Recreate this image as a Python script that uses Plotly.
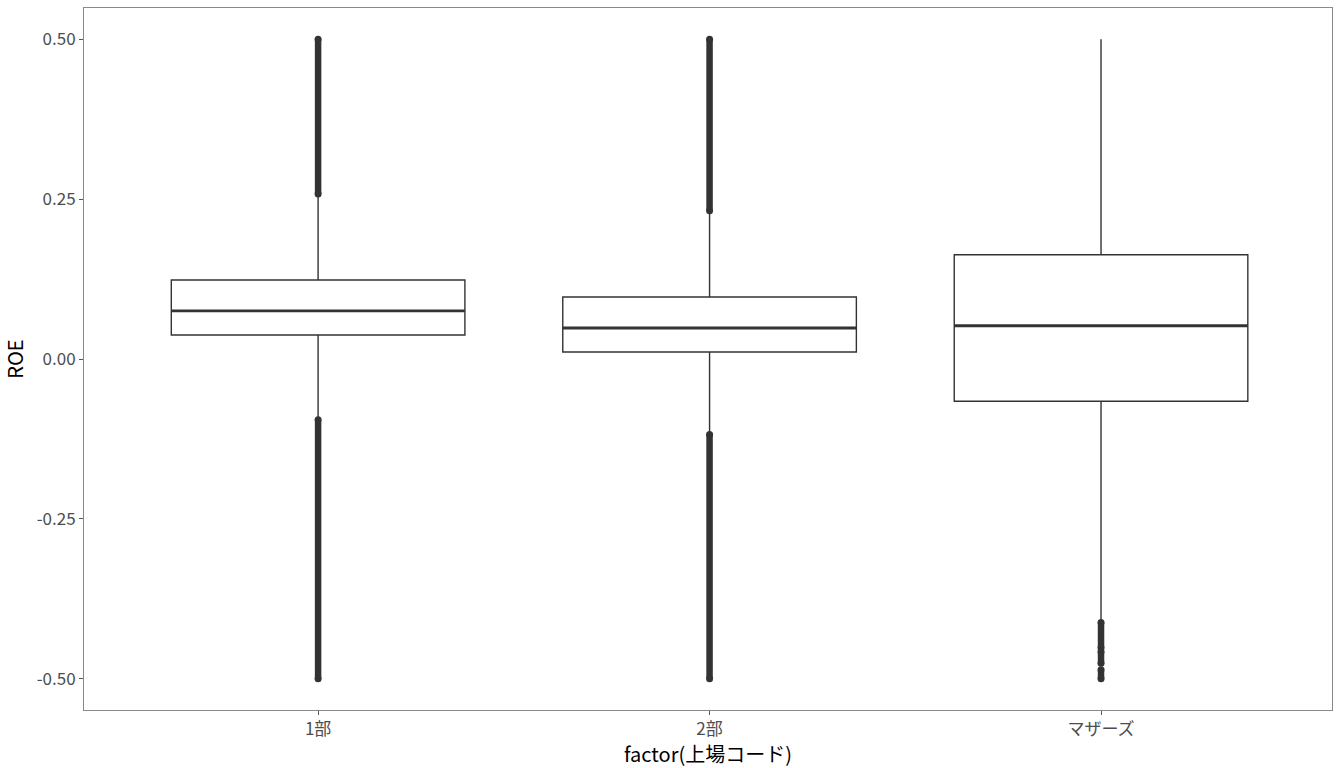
import plotly.graph_objects as go

categories = ["1部", "2部", "マザーズ"]
xpos = [1, 2, 3]
q1 = [0.0375, 0.011, -0.066]
median = [0.0752, 0.0485, 0.052]
q3 = [0.1236, 0.097, 0.163]
lowerfence = [-0.092, -0.115, -0.408]
upperfence = [0.254, 0.228, 0.50]
# outlier strips (dense points), as (start, end) value ranges per category
outlier_ranges = [
    [(0.258, 0.50), (-0.50, -0.095)],
    [(0.232, 0.50), (-0.50, -0.118)],
    [(-0.412, -0.452), (-0.458, -0.476), (-0.486, -0.50)],
]
yticks = [0.50, 0.25, 0.00, -0.25, -0.50]
ytick_labels = ["0.50", "0.25", "0.00", "-0.25", "-0.50"]

box_w = 0.75
line_col = "#333333"
font_family = "Noto Sans CJK JP"

fig = go.Figure()
fig.add_trace(go.Box(
    x=xpos, q1=q1, median=median, q3=q3,
    lowerfence=lowerfence, upperfence=upperfence,
    width=box_w, whiskerwidth=0, boxpoints=False,
    fillcolor="white", line=dict(color=line_col, width=1.4),
    showlegend=False, hoverinfo="skip",
))
# thicker median lines
for xi, m in zip(xpos, median):
    fig.add_trace(go.Scatter(
        x=[xi - box_w / 2, xi + box_w / 2], y=[m, m], mode="lines",
        line=dict(color=line_col, width=2.8), showlegend=False, hoverinfo="skip",
    ))
# outliers
for xi, ranges in zip(xpos, outlier_ranges):
    for a, b in ranges:
        fig.add_trace(go.Scatter(
            x=[xi, xi], y=[a, b], mode="lines+markers",
            line=dict(color=line_col, width=6.5),
            marker=dict(color=line_col, size=7, line=dict(width=0)),
            showlegend=False, hoverinfo="skip",
        ))

axis_common = dict(
    showgrid=False, zeroline=False, showline=True, mirror=True,
    linecolor="#8a8a8a", linewidth=1, ticks="outside", ticklen=4,
    tickcolor="#555555", tickwidth=1,
    tickfont=dict(family=font_family, size=17, color="#4d4d4d"),
)
fig.update_layout(
    width=1344, height=768,
    margin=dict(l=84, r=12, t=8, b=58),
    paper_bgcolor="white", plot_bgcolor="white",
    xaxis=dict(
        range=[0.402, 3.590], tickvals=xpos, ticktext=categories,
        title=dict(text="factor(上場コード)", font=dict(family=font_family, size=20, color="black"), standoff=0),
        **axis_common,
    ),
    yaxis=dict(
        range=[-0.549, 0.549], tickvals=yticks, ticktext=ytick_labels,
        title=dict(text="ROE", font=dict(family=font_family, size=20, color="black"), standoff=8),
        **axis_common,
    ),
)
fig.write_html("out.html")
